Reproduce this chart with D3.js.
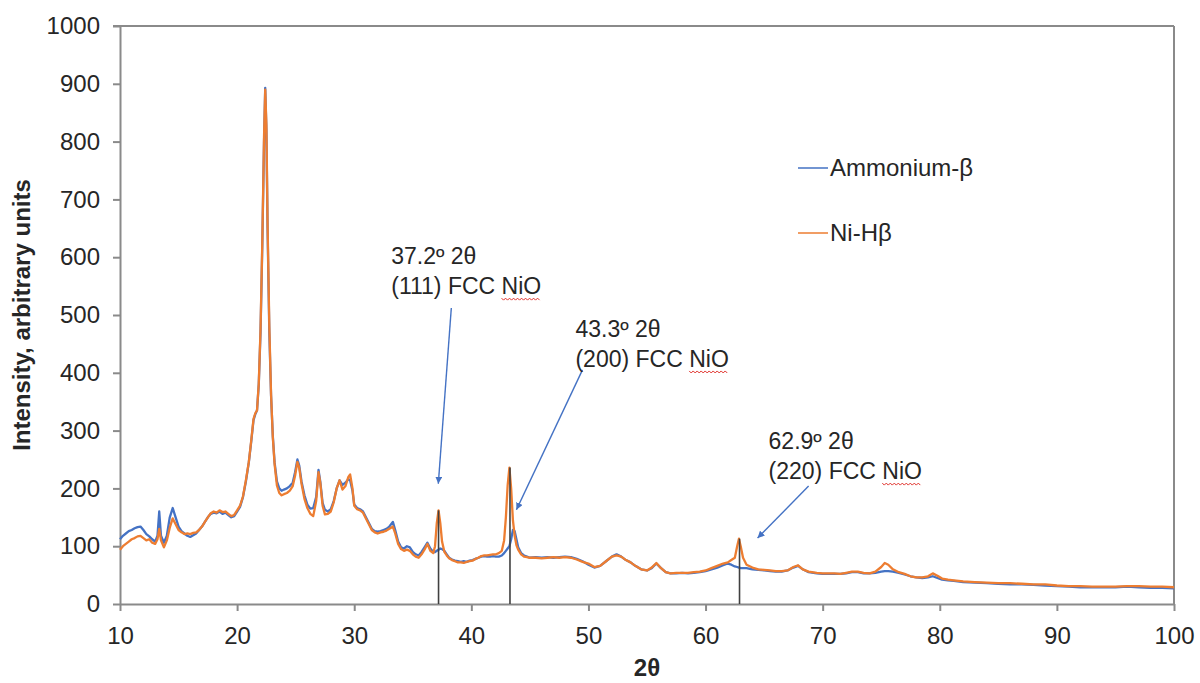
<!DOCTYPE html>
<html>
<head>
<meta charset="utf-8">
<script src="https://cdn.jsdelivr.net/npm/d3@7"></script>
<style>
body{margin:0;background:#fff}
text{font-family:"Liberation Sans",Arial,Helvetica,sans-serif;fill:#262626}
</style>
</head>
<body>
<script>
// 2theta positions (deg)
var twoTheta=[10,10.25,10.5,10.75,11,11.25,11.5,11.75,12,12.25, 12.5,12.75,13,13.2,13.35,13.5,13.75,14,14.25,14.5, 14.75,15,15.25,15.5,15.75,16,16.25,16.5,16.75,17, 17.25,17.5,17.75,18,18.25,18.5,18.75,19,19.25,19.5, 19.75,20,20.25,20.5,20.75,21,
  21.2,21.4,21.55,21.7,21.85,22,22.15,22.3,22.4,22.5, 22.6,22.75,22.9,23.05,23.2,23.4,23.6,23.8,24,
  24.25,24.5,24.75,24.95,25.15,25.3,25.5,25.75,26,26.25, 26.5,26.75,26.95,27.1,27.3,27.5,27.75,28,28.25,28.5, 28.75,29,29.25,29.5,29.65,29.85,30,
  30.25,30.5,30.75,31,31.25,31.5,31.75,32,32.25,32.5, 32.75,33,33.3,33.5,33.75,34,34.25,34.5,34.75,35, 35.25,35.5,35.75,36,36.25,36.5,36.75,36.9,37.05,
  37.2,37.35,37.5,37.7,37.9,38.1,38.35,38.6,38.85,39.1, 39.35,39.6,39.85,40.1,40.35,40.6,40.85,41.1,41.35,41.6, 41.85,42.1,42.35,42.6,
  42.8,42.95,43.1,43.25,43.4,43.55,43.7,43.85,44,44.25, 44.5,44.75,45,45.5,46,46.5,47,47.5,48,48.5, 49,49.5,50,
  50.5,51,51.5,52,52.4,52.8,53.2,53.6,54,54.5, 55,55.4,55.8,56.2,56.6,57,57.5,58,58.5,59, 59.5,60,60.5,61,61.5,61.9,62.2,62.5,62.7,62.85, 63,63.2,63.5,
  64,64.5,65,65.5,66,66.5,67,67.5,67.9,68.3, 68.8,69.5,70,70.5,71,71.5,72,72.5,73,73.5, 74,74.5,75,75.3,75.6,76,76.5,77,77.5,78, 78.5,79,79.4,79.8,80.2,
  80.7,81.2,82,83,84,85,86,87,88,89, 90,91,92,93,94,95,96,97,98,99, 100]

// Ammonium-beta intensity
var ammonium=[112,118,122,126,128,131,133,134,128,121, 117,112,108,118,160,118,106,118,150,166, 150,134,126,122,118,116,119,122,128,134, 142,150,156,158,157,160,156,158,154,150, 152,160,168,185,212,245,
  280,318,328,335,380,470,620,800,893,820, 650,470,360,290,245,212,200,196,198,
  200,204,210,228,250,240,212,188,172,165, 166,185,232,212,175,163,160,164,178,200, 214,206,210,216,214,196,172,
  166,164,160,150,140,130,126,125,126,128, 130,134,142,128,108,98,96,100,98,90, 86,84,90,98,106,96,90,90,92,
  94,96,95,92,86,80,77,75,74,73, 74,73,75,76,78,80,82,83,82,82, 83,82,82,84,
  88,92,96,100,112,128,126,112,98,88, 84,82,80,81,80,81,80,81,82,81, 78,74,68,
  63,66,74,82,86,82,76,72,66,60, 58,62,70,62,55,53,53,54,53,54, 55,57,60,63,67,70,68,65,64,63, 62,62,62,
  60,59,58,57,56,56,58,63,66,60, 55,53,52,52,52,52,53,55,55,53, 53,54,56,57,57,56,54,51,48,46, 45,46,48,45,42,
  41,40,38,37,36,35,34,34,33,32, 31,30,29,29,29,29,30,29,28,28, 27]

// Ni-Hbeta intensity
var niHbeta=[94,100,104,108,112,114,117,118,114,110, 112,106,104,112,130,110,98,110,132,148, 138,128,124,121,122,121,123,124,128,134, 142,150,157,160,158,162,159,160,156,152, 154,162,170,186,214,246,
  282,320,330,335,382,475,625,810,890,830, 660,480,362,288,242,205,192,188,190,
  192,196,204,222,246,236,208,182,166,156, 152,178,228,210,170,155,156,160,176,200, 214,198,204,220,224,200,170,
  164,162,158,148,138,128,124,122,124,125, 127,130,134,122,104,95,92,94,92,86, 82,80,86,94,104,92,88,100,140,
  162,140,108,90,84,79,76,74,72,72, 71,73,74,75,78,80,83,84,84,85, 86,86,88,92,
  110,150,205,236,200,145,118,102,94,86, 82,81,80,80,79,80,81,80,81,80, 77,73,70,
  64,66,74,82,84,82,76,72,66,60, 58,63,71,62,55,53,54,54,54,55, 56,58,62,66,70,72,76,80,100,113, 100,80,68,
  63,60,59,58,57,57,58,64,67,60, 56,54,53,53,53,52,54,56,56,54, 53,56,64,71,68,60,55,52,48,46, 46,48,53,49,44,
  42,41,39,38,37,36,36,35,34,34, 32,31,31,30,30,30,31,31,30,30, 29]

var seriesNames=["Ammonium-β","Ni-Hβ"]
var xTicks=[10,20,30,40,50,60,70,80,90,100]
var yTicks=[0,100,200,300,400,500,600,700,800,900,1000]

// NiO reflections marked on the chart
var peakAngles=[37.2,43.3,62.9]
var peakHeights=[162,236,113]
var peakLine1=["37.2º 2θ","43.3º 2θ","62.9º 2θ"]
var peakLine2=["(111) FCC NiO","(200) FCC NiO","(220) FCC NiO"]

var drawChart=function()
{
  var screen={width:1200,height:683}
  var margins={top:26,right:26,bottom:79,left:120}
  var width=screen.width-margins.left-margins.right
  var height=screen.height-margins.top-margins.bottom
  var colors=["#4472C4","#ED7D31"]
  var axisColor="#8a8a8a"

  var xScale=d3.scaleLinear().domain([10,100]).range([0,width])
  var yScale=d3.scaleLinear().domain([0,1000]).range([height,0])

  var svg=d3.select("body").append("svg")
            .attr("width",screen.width)
            .attr("height",screen.height)
  var defs=svg.append("defs")
  defs.append("marker")
      .attr("id","arrowHead")
      .attr("viewBox","0 0 10 10")
      .attr("refX",10).attr("refY",5)
      .attr("markerWidth",7).attr("markerHeight",7)
      .attr("markerUnits","userSpaceOnUse")
      .attr("orient","auto")
      .append("path").attr("d","M0,0L10,5L0,10Z").attr("fill",colors[0])

  var plot=svg.append("g")
              .attr("transform","translate("+margins.left+","+margins.top+")")

  // frame
  plot.append("line").attr("x1",-7).attr("x2",width).attr("y1",0).attr("y2",0)
      .attr("stroke",axisColor).attr("stroke-width",2)
  plot.append("line").attr("x1",width).attr("x2",width).attr("y1",0).attr("y2",height)
      .attr("stroke",axisColor).attr("stroke-width",2)

  var xAxis=plot.append("g")
      .attr("transform","translate(0,"+height+")")
      .call(d3.axisBottom(xScale).tickValues(xTicks).tickFormat(d3.format("d")).tickSize(7).tickSizeOuter(0).tickPadding(16))
  var yAxis=plot.append("g")
      .call(d3.axisLeft(yScale).tickValues(yTicks).tickFormat(d3.format("d")).tickSize(7).tickSizeOuter(0).tickPadding(13))
  ;[xAxis,yAxis].forEach(function(a){
    a.select(".domain").attr("stroke",axisColor).attr("stroke-width",2)
    a.selectAll(".tick line").attr("stroke",axisColor).attr("stroke-width",2)
    a.selectAll(".tick text").attr("font-size",24).attr("fill","#262626")
      .style("font-family",'"Liberation Sans",Arial,sans-serif')
  })

  // series
  var allSeries=[ammonium,niHbeta]
  allSeries.forEach(function(vals,s){
    var line=d3.line()
               .x(function(d,i){return xScale(twoTheta[i]);})
               .y(function(d){return yScale(d);})
    plot.append("path")
        .datum(vals)
        .attr("fill","none")
        .attr("stroke",colors[s])
        .attr("stroke-width",2.3)
        .attr("stroke-linejoin","round")
        .attr("d",line)
  })

  // drop lines at the NiO peaks
  plot.selectAll(".drop")
      .data(peakAngles)
      .enter()
      .append("line")
      .attr("x1",function(d){return xScale(d);})
      .attr("x2",function(d){return xScale(d);})
      .attr("y1",yScale(0))
      .attr("y2",function(d,i){return yScale(peakHeights[i]);})
      .attr("stroke","#404040")
      .attr("stroke-width",1.6)

  // annotation text and arrows (in data units)
  var labelAt=[[33.16,588],[48.89,462],[65.38,268]]
  var arrowFrom=[[38.29,512],[49.49,405],[68.8,204]]
  var arrowTo=[[37.18,208],[43.85,163],[64.44,114]]

  arrowFrom.forEach(function(p,i){
    plot.append("line")
        .attr("x1",xScale(p[0])).attr("y1",yScale(p[1]))
        .attr("x2",xScale(arrowTo[i][0])).attr("y2",yScale(arrowTo[i][1]))
        .attr("stroke",colors[0]).attr("stroke-width",1.4)
        .attr("marker-end","url(#arrowHead)")
  })

  labelAt.forEach(function(p,i){
    var lx=xScale(p[0]), ly=yScale(p[1])
    plot.append("text").attr("x",lx).attr("y",ly).attr("font-size",23).text(peakLine1[i])
    var t2=plot.append("text").attr("x",lx).attr("y",ly+30).attr("font-size",23).text(peakLine2[i])
    // red spell-check squiggle under "NiO"
    var node=t2.node(), str=peakLine2[i], k=str.indexOf("NiO")
    var x0=lx+node.getSubStringLength(0,k), x1=x0+node.getSubStringLength(k,3)
    var pts=[], up=true
    for(var x=x0;x<=x1;x+=2){pts.push([x,ly+30+(up?4:6)]);up=!up}
    plot.append("path").attr("d",d3.line()(pts))
        .attr("fill","none").attr("stroke","#e0302a").attr("stroke-width",1)
  })

  // legend
  var legend=svg.append("g").attr("transform","translate(798,168)")
  seriesNames.forEach(function(n,i){
    legend.append("line").attr("x1",0).attr("x2",30).attr("y1",i*65).attr("y2",i*65)
          .attr("stroke",colors[i]).attr("stroke-width",2).attr("opacity",0.75)
    legend.append("text").attr("x",32).attr("y",i*65).attr("dy","0.35em")
          .attr("font-size",24).text(n)
  })

  // axis titles
  svg.append("text")
     .attr("transform","translate(30,"+(margins.top+height/2)+") rotate(-90)")
     .attr("text-anchor","middle")
     .attr("font-size",24).attr("font-weight","bold")
     .text("Intensity, arbitrary units")
  svg.append("text")
     .attr("x",margins.left+width/2).attr("y",676)
     .attr("text-anchor","middle")
     .attr("font-size",24).attr("font-weight","bold")
     .text("2θ")
}

drawChart()
</script>
</body>
</html>
